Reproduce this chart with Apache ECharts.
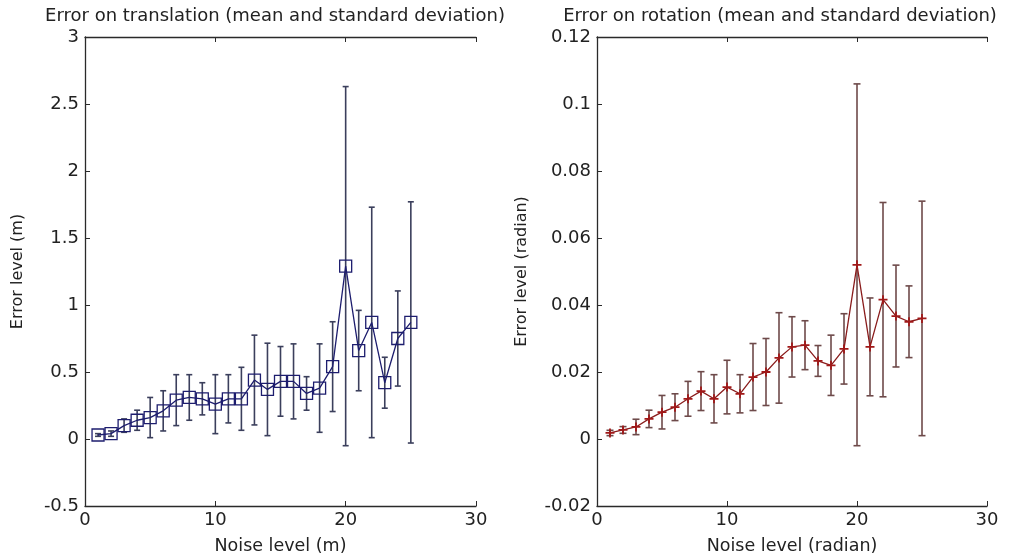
<!DOCTYPE html>
<html>
<head>
<meta charset="utf-8">
<script src="https://cdn.jsdelivr.net/npm/echarts@6/dist/echarts.min.js"></script>
<style>html,body{margin:0;padding:0;background:#fff}#c{width:1025px;height:560px}</style>
</head>
<body>
<div id="c"></div>
<script>
const noise = [1,2,3,4,5,6,7,8,9,10,11,12,13,14,15,16,17,18,19,20,21,22,23,24,25];
const transMean = [0.03,0.04,0.10,0.14,0.16,0.21,0.29,0.31,0.30,0.26,0.30,0.30,0.44,0.37,0.43,0.43,0.34,0.38,0.54,1.29,0.66,0.87,0.42,0.75,0.87];
const transStd  = [0.01,0.02,0.05,0.075,0.15,0.15,0.19,0.17,0.12,0.22,0.18,0.235,0.335,0.345,0.26,0.28,0.125,0.33,0.335,1.34,0.30,0.86,0.19,0.355,0.90];
const rotMean = [0.0018,0.0027,0.0036,0.006,0.008,0.0095,0.012,0.0143,0.012,0.0155,0.0135,0.0185,0.020,0.0242,0.0275,0.028,0.0233,0.022,0.0269,0.052,0.0275,0.0416,0.0367,0.035,0.036];
const rotStd  = [0.0008,0.001,0.0023,0.0026,0.005,0.004,0.0052,0.0058,0.0072,0.008,0.0057,0.010,0.010,0.0135,0.009,0.0073,0.0046,0.009,0.0105,0.054,0.0146,0.029,0.0152,0.0107,0.035];
const xTicks = [0,10,20,30];
const titles = ['Error on translation (mean and standard deviation)','Error on rotation (mean and standard deviation)'];
const xNames = ['Noise level (m)','Noise level (radian)'];
const yNames = ['Error level (m)','Error level (radian)'];

const FONT = 'DejaVu Sans, sans-serif';
const AX = '#2a2a2a';

function errData(m, s){ return noise.map((x,i)=>[x, m[i]-s[i], m[i]+s[i]]); }
function lineData(m){ return noise.map((x,i)=>[x, m[i]]); }

function errSeries(idx, data, color, cap){
  return {
    type:'custom', xAxisIndex: idx*2, yAxisIndex: idx, data: data, z: 2,
    renderItem: function(params, api){
      const x = api.value(0);
      const lo = api.coord([x, api.value(1)]);
      const hi = api.coord([x, api.value(2)]);
      const st = {stroke: color, lineWidth: 1.6};
      return {type:'group', children:[
        {type:'line', shape:{x1:lo[0],y1:lo[1],x2:hi[0],y2:hi[1]}, style:st},
        {type:'line', shape:{x1:hi[0]-cap,y1:hi[1],x2:hi[0]+cap,y2:hi[1]}, style:st},
        {type:'line', shape:{x1:lo[0]-cap,y1:lo[1],x2:lo[0]+cap,y2:lo[1]}, style:st}
      ]};
    }
  };
}

function xAxes(gi){
  return [
    {gridIndex:gi, type:'value', min:0, max:30, interval:10, position:'bottom',
     axisLine:{show:true, onZero:false, lineStyle:{color:AX, width:1.3}},
     axisTick:{show:true, inside:true, length:5, lineStyle:{color:AX}},
     axisLabel:{color:'#222', fontSize:18, fontFamily:FONT, margin:5},
     splitLine:{show:false},
     name:xNames[gi], nameLocation:'middle', nameGap:31,
     nameTextStyle:{color:'#222', fontSize:17.5, fontFamily:FONT}},
    {gridIndex:gi, type:'value', min:0, max:30, interval:10, position:'top',
     axisLine:{show:true, onZero:false, lineStyle:{color:AX, width:1.3}},
     axisTick:{show:true, inside:true, length:5, lineStyle:{color:AX}},
     axisLabel:{show:false}, splitLine:{show:false}}
  ];
}

function yAxis(gi, min, max, interval){
  return {gridIndex:gi, type:'value', min:min, max:max, interval:interval,
    axisLine:{show:true, onZero:false, lineStyle:{color:AX, width:1.3}},
    axisTick:{show:true, inside:true, length:5, lineStyle:{color:AX}},
    axisLabel:{color:'#222', fontSize:18, fontFamily:FONT, margin:6},
    splitLine:{show:false},
    name:yNames[gi], nameLocation:'middle', nameGap: gi===0 ? 59 : 67, nameRotate:90,
    nameTextStyle:{color:'#222', fontSize:16, fontFamily:FONT}};
}

const option = {
  animation:false,
  backgroundColor:'#fff',
  title:[
    {text:titles[0], left:270, top:2, textAlign:'center', textStyle:{color:'#222', fontSize:18, fontWeight:'normal', fontFamily:FONT}},
    {text:titles[1], left:775, top:2, textAlign:'center', textStyle:{color:'#222', fontSize:18, fontWeight:'normal', fontFamily:FONT}}
  ],
  grid:[
    {left:85, top:37, width:391, height:471},
    {left:597, top:37, width:390, height:471}
  ],
  xAxis: xAxes(0).concat(xAxes(1)),
  yAxis: [yAxis(0,-0.5,3,0.5), yAxis(1,-0.02,0.12,0.02)],
  series:[
    errSeries(0, errData(transMean, transStd), '#3b3f5c', 3),
    {type:'line', xAxisIndex:0, yAxisIndex:0, data:lineData(transMean), z:3,
     lineStyle:{color:'#1d1d6e', width:1.3},
     symbol:'rect', symbolSize:12,
     itemStyle:{color:'rgba(255,255,255,0)', borderColor:'#1d1d6e', borderWidth:1.3}},
    errSeries(1, errData(rotMean, rotStd), '#6e4a4a', 3.5),
    {type:'line', xAxisIndex:2, yAxisIndex:1, data:lineData(rotMean), z:3,
     lineStyle:{color:'#8a1c1c', width:1.3},
     symbol:'path://M4,0h2v4h4v2h-4v4h-2v-4h-4v-2h4z', symbolSize:9,
     itemStyle:{color:'#a01818'}}
  ]
};
const chart = echarts.init(document.getElementById('c'), null, {renderer:'canvas'});
chart.setOption(option);
</script>
</body>
</html>
